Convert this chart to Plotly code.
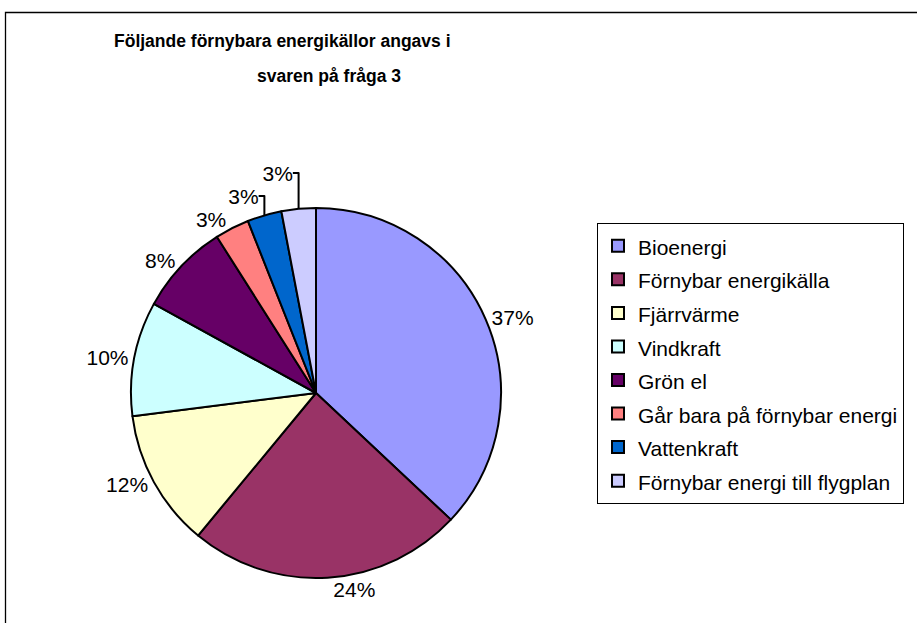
import plotly.graph_objects as go

categories = [
    "Bioenergi",
    "Förnybar energikälla",
    "Fjärrvärme",
    "Vindkraft",
    "Grön el",
    "Går bara på förnybar energi",
    "Vattenkraft",
    "Förnybar energi till flygplan",
]
percent_values = [37, 24, 12, 10, 8, 3, 3, 3]
slice_colors = ["#9999FF", "#993366", "#FFFFCC", "#CCFFFF", "#660066", "#FF8080", "#0066CC", "#CCCCFF"]
title_lines = ["Följande förnybara energikällor angavs i", "svaren på fråga 3"]

W, H = 917, 623
FONT = "Liberation Sans, Arial, sans-serif"

legend_labels = [f'<span style="font-size:21px">{c}</span>' for c in categories]

fig = go.Figure()
fig.add_trace(go.Pie(
    labels=legend_labels,
    values=percent_values,
    sort=False,
    direction="clockwise",
    rotation=0,
    marker=dict(colors=slice_colors, line=dict(color="#000000", width=2)),
    textinfo="percent",
    texttemplate="%{percent:.0%}",
    textposition="outside",
    textfont=dict(family=FONT, size=21, color="#000000"),
    domain=dict(x=[131 / W, 501 / W], y=[(H - 578) / H, (H - 208) / H]),
    hoverinfo="skip",
))

# outer chart frame (partly cut off at right/bottom like the reference)
fig.add_shape(type="rect", xref="paper", yref="paper",
              x0=5.5 / W, x1=1.05, y0=-0.05, y1=(H - 12.5) / H,
              line=dict(color="#000000", width=1.3), fillcolor="rgba(0,0,0,0)", layer="below")

fig.add_annotation(text=f"<b>{title_lines[0]}</b>", xref="paper", yref="paper",
                   x=282 / W, y=(H - 41) / H, xanchor="center", yanchor="middle",
                   showarrow=False, font=dict(family=FONT, size=17.5, color="#000000"))
fig.add_annotation(text=f"<b>{title_lines[1]}</b>", xref="paper", yref="paper",
                   x=329 / W, y=(H - 76) / H, xanchor="center", yanchor="middle",
                   showarrow=False, font=dict(family=FONT, size=17.5, color="#000000"))

fig.update_layout(
    width=W, height=H,
    margin=dict(l=0, r=0, t=0, b=0),
    paper_bgcolor="#FFFFFF",
    plot_bgcolor="#FFFFFF",
    showlegend=True,
    legend=dict(
        x=597 / W, y=(H - 223) / H, xanchor="left", yanchor="top",
        bordercolor="#000000", borderwidth=1, bgcolor="#FFFFFF",
        font=dict(family=FONT, size=23.5, color="#000000"),
        traceorder="normal",
    ),
    font=dict(family=FONT),
)

fig.write_html("out.html", config={"displayModeBar": False},
               post_script="document.body.style.margin='0';")
